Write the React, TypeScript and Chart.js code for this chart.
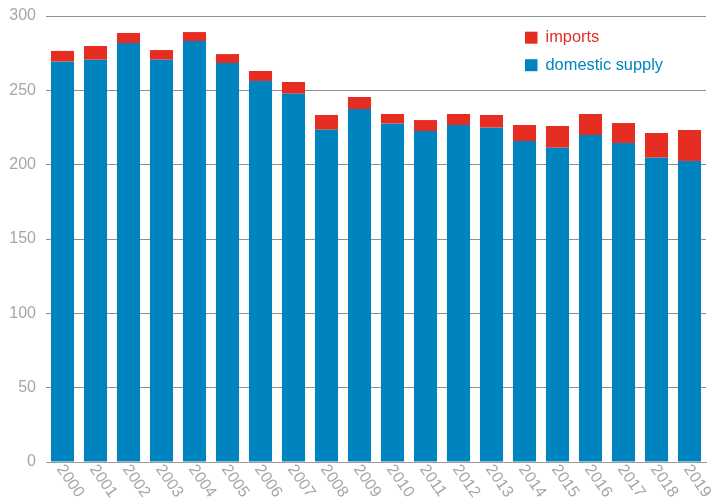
import React, { useEffect, useRef } from "react";
import { Chart, registerables } from "chart.js";

Chart.register(...registerables);

const years = [
  "2000", "2001", "2002", "2003", "2004", "2005", "2006", "2007", "2008", "2009",
  "2010", "2011", "2012", "2013", "2014", "2015", "2016", "2017", "2018", "2019",
];

const domesticSupply = [
  269.3, 270.6, 281.8, 270.6, 283.2, 268.4, 256.3, 247.7, 223.5, 237.4,
  227.6, 222.6, 226.7, 224.9, 215.9, 211.4, 219.9, 214.6, 204.7, 202.5,
];

const imports = [
  7.2, 9.2, 6.8, 6.5, 6.0, 6.0, 6.7, 7.9, 9.9, 8.1,
  6.5, 7.4, 7.4, 8.5, 10.8, 14.6, 14.2, 13.4, 16.6, 20.8,
];

const yTicks = [0, 50, 100, 150, 200, 250, 300];

const BLUE = "#0084bf";
const RED = "#e52d22";
const GREY_TEXT = "#a6a6a6";
const FONT = "Liberation Sans, Arial, sans-serif";

// Legend drawn inside the plot, top-right, with text in each series colour
const insideLegend = {
  id: "insideLegend",
  afterDraw(chart: any) {
    const ctx = chart.ctx;
    const items = [
      { label: "imports", color: RED },
      { label: "domestic supply", color: BLUE },
    ];
    ctx.save();
    ctx.font = `16.4px ${FONT}`;
    ctx.textBaseline = "middle";
    ctx.textAlign = "left";
    items.forEach((it, i) => {
      const y = 37.7 + i * 27.5;
      ctx.fillStyle = it.color;
      ctx.fillRect(525, y - 6, 12.5, 12);
      ctx.fillText(it.label, 545.5, y);
    });
    ctx.restore();
  },
};

// Year labels slanting down to the right below each bar
const slantedYears = {
  id: "slantedYears",
  afterDraw(chart: any) {
    const ctx = chart.ctx;
    const xs = chart.scales.x;
    ctx.save();
    ctx.font = `16px ${FONT}`;
    ctx.fillStyle = GREY_TEXT;
    ctx.textAlign = "left";
    ctx.textBaseline = "top";
    years.forEach((label, i) => {
      const x = xs.getPixelForTick(i);
      ctx.save();
      ctx.translate(x + 4, chart.chartArea.bottom);
      ctx.rotate((55 * Math.PI) / 180);
      ctx.fillText(label, 0, 0);
      ctx.restore();
    });
    ctx.restore();
  },
};

export default function App() {
  const canvasRef = useRef<HTMLCanvasElement | null>(null);

  useEffect(() => {
    const canvas = canvasRef.current;
    if (!canvas) return;
    const chart = new Chart(canvas, {
      type: "bar",
      data: {
        labels: years,
        datasets: [
          {
            label: "domestic supply",
            data: domesticSupply,
            backgroundColor: BLUE,
            barPercentage: 0.7,
            categoryPercentage: 1,
            stack: "s",
          },
          {
            label: "imports",
            data: imports,
            backgroundColor: RED,
            barPercentage: 0.7,
            categoryPercentage: 1,
            stack: "s",
          },
        ],
      },
      options: {
        animation: false,
        responsive: false,
        maintainAspectRatio: false,
        layout: { padding: { top: 16, right: 13, left: 0, bottom: 0 } },
        plugins: {
          legend: { display: false },
          tooltip: { enabled: false },
        },
        scales: {
          x: {
            stacked: true,
            grid: { display: false, drawTicks: false },
            border: { display: true, color: "#9a9a9a", width: 1 },
            ticks: { display: false },
            afterFit(scale: any) {
              scale.height = 40;
              scale.paddingLeft = 0;
              scale.paddingRight = 0;
            },
          },
          y: {
            stacked: true,
            min: 0,
            max: 300,
            afterBuildTicks(scale: any) {
              scale.ticks = yTicks.map((v) => ({ value: v }));
            },
            grid: { color: "#8f8f8f", lineWidth: 1, drawTicks: false },
            border: { display: false },
            ticks: {
              color: GREY_TEXT,
              font: { family: FONT, size: 16 },
              padding: 10,
            },
            afterFit(scale: any) {
              scale.width = 46;
              scale.paddingTop = 0;
              scale.paddingBottom = 0;
            },
          },
        },
      },
      plugins: [insideLegend, slantedYears],
    });
    return () => chart.destroy();
  }, []);

  return (
    <div style={{ position: "fixed", left: 0, top: 0, width: 719, height: 502, background: "#fff" }}>
      <canvas ref={canvasRef} width={719} height={502} style={{ display: "block" }} />
    </div>
  );
}
